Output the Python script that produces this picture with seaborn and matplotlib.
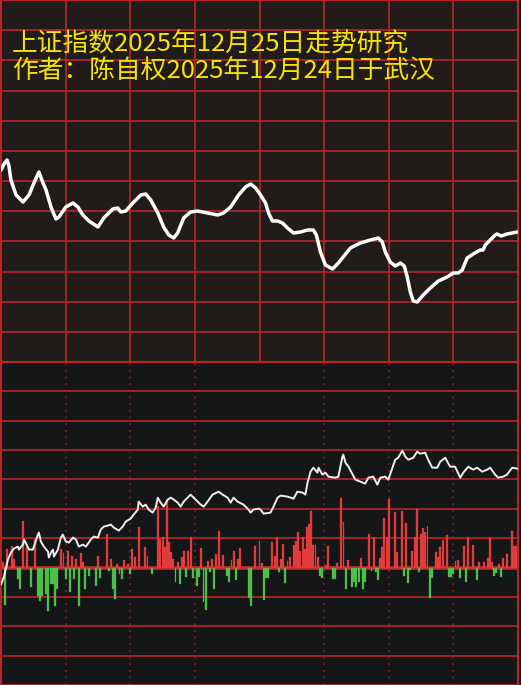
import numpy as np
import pandas as pd
import matplotlib
matplotlib.use("Agg")
import matplotlib.pyplot as plt
import seaborn as sns

# ------------------------------------------------------------------
# Data (x in trading minutes 0..240, y in panel units)
# ------------------------------------------------------------------
title_line1 = "上证指数2025年12月25日走势研究"
title_line2 = "作者：陈自权2025年12月24日于武汉"

# upper panel: smooth index trend
trend_minute = [0, 1.4, 2.8, 3.7, 4.6, 7.0, 10.2, 13.0, 15.3, 17.6, 19.5, 20.9, 23.2, 25.5,
                26.9, 30.1, 33.4, 35.7, 38.0, 40.8, 45.0, 47.7, 51.9, 54.2, 55.6, 57.9,
                61.2, 64.9, 67.2, 69.5, 72.8, 75.5, 77.9, 80.2, 82.0, 84.8, 88.0, 91.3,
                95.9, 100.6, 103.3, 106.6, 110.3, 113.5, 115.9, 118.2, 120.5, 122.8,
                124.2, 126.0, 128.4, 130.7, 133.0, 135.8, 139.0, 142.3, 145.0, 146.4,
                148.3, 150.6, 153.9, 156.6, 162.2, 166.8, 171.5, 175.2, 177.0, 178.4,
                180.7, 183.0, 185.4, 187.2, 188.6, 190.0, 191.4, 193.2, 196.0, 199.3,
                203.0, 207.1, 209.9, 212.2, 214.1, 216.4, 219.2, 222.4, 223.8, 224.8,
                227.1, 229.4, 230.3, 232.2, 234.9, 239.6]
trend_value = [192, 198, 202, 196, 182, 167, 160, 167, 179, 190, 179, 172, 155, 143,
               145, 155, 159, 155, 147, 141, 135, 144, 153, 154, 150, 151,
               159, 167, 168, 162, 149, 135, 127, 124, 129, 144, 150, 151,
               149, 147, 149, 155, 167, 175, 178, 174, 167, 159,
               149, 141, 141, 139, 134, 129, 130, 132, 132, 127,
               110, 97, 93, 99, 114, 119, 122, 124, 120, 110,
               100, 96, 99, 96, 85, 70, 61, 60, 67, 74,
               81, 85, 89, 89, 92, 104, 108, 112, 112, 117,
               122, 127, 128, 126, 128, 130]

# lower panel: jagged line
flow_minute = [0, 1.4, 3.2, 4.6, 6.0, 7.9, 8.3, 10.2, 10.7, 13.0, 14.8, 15.3, 17.1, 17.6,
               18.5, 19.9, 21.8, 22.2, 23.2, 24.1, 24.6, 26.4, 27.8, 28.7, 30.1, 31.5,
               33.4, 34.8, 36.1, 38.0, 39.4, 41.7, 43.1, 45.0, 46.3, 47.7, 49.6, 51.0,
               52.4, 54.7, 56.5, 57.9, 60.2, 61.6, 63.5, 63.9, 65.8, 67.2, 68.6, 70.4,
               71.8, 72.8, 74.1, 75.5, 77.4, 78.8, 80.2, 82.0, 83.4, 84.8, 88.0, 89.4,
               91.3, 92.7, 94.1, 95.9, 98.2, 101.0, 102.9, 105.2, 106.6, 108.0, 109.8,
               112.6, 114.9, 115.9, 117.2, 119.6, 120.5, 121.9, 125.1, 126.5, 128.4,
               129.8, 133.0, 135.8, 137.6, 140.0, 141.3, 142.3, 143.7, 145.0, 146.9,
               147.4, 149.2, 150.6, 152.0, 155.2, 156.6, 158.5, 158.9, 159.9, 161.3,
               164.5, 166.8, 169.1, 170.5, 172.8, 174.7, 176.1, 178.4, 179.8, 181.7,
               183.0, 184.4, 186.3, 187.7, 189.1, 191.4, 193.2, 194.6, 196.9, 198.3,
               200.2, 202.5, 203.9, 206.2, 208.5, 210.8, 213.2, 214.6, 216.9, 219.2,
               221.0, 223.4, 225.7, 227.1, 229.4, 230.8, 233.1, 234.9, 237.3, 239.6]
flow_value = [-17, -9, 8, 15, 19, 21, 18, 23, 28, 18, 18, 21, 33, 35,
              26, 21, 16, 10, 15, 18, 11, 18, 30, 33, 26, 25,
              30, 28, 21, 23, 21, 28, 31, 30, 38, 41, 42, 43,
              40, 37, 41, 46, 49, 53, 58, 66, 61, 63, 58, 55,
              60, 70, 65, 61, 68, 70, 68, 65, 61, 66, 73, 70,
              66, 63, 61, 66, 73, 76, 73, 70, 65, 70, 66,
              63, 58, 55, 58, 59, 58, 54, 55, 61, 70,
              72, 71, 69, 76, 75, 73, 85, 96, 100, 95,
              100, 93, 95, 91, 90, 91, 111, 113, 105, 101,
              88, 86, 84, 90, 91, 83, 90, 91, 88, 100,
              108, 110, 117, 111, 108, 110, 116, 114, 115, 108,
              100, 100, 106, 110, 101, 101, 90, 95, 101, 98,
              100, 96, 98, 100, 93, 90, 91, 93, 100, 99]

# lower panel: per-minute bars (positive = red, negative = green)
up_minute = [1, 3, 5, 6, 10, 12, 16, 28, 29, 31, 33, 35, 37, 38, 45, 49, 51, 54, 57, 59,
             61, 62, 64, 67, 68, 73, 74, 75, 76, 77, 78, 79, 80, 82, 84, 85, 87, 88,
             93, 96, 98, 100, 101, 103, 107, 108, 110, 111, 118, 120, 121, 126, 127,
             128, 130, 131, 133, 134, 136, 137, 138, 139, 140, 141, 142, 143, 144, 145,
             146, 147, 151, 152, 156, 158, 159, 161, 167, 171, 173, 176, 177, 178, 179,
             180, 183, 184, 186, 188, 191, 192, 193, 195, 196, 197, 198, 202, 203, 204,
             205, 207, 211, 212, 215, 217, 219, 222, 224, 226, 227, 228, 231, 233, 235,
             237, 238, 239]
up_value = [6, 19, 22, 9, 47, 21, 29, 19, 15, 17, 12, 9, 15, 6, 12, 34, 9, 4, 8, 4,
            19, 11, 41, 21, 12, 62, 29, 31, 21, 67, 26, 16, 9, 6, 11, 17, 17, 31,
            20, 7, 9, 14, 37, 13, 8, 17, 9, 20, 22, 27, 5, 26, 12,
            31, 9, 24, 7, 11, 23, 27, 36, 17, 31, 19, 41, 44, 57, 23,
            23, 11, 3, 22, 5, 70, 46, 8, 10, 34, 31, 10, 21, 50, 31,
            69, 56, 16, 57, 45, 17, 31, 59, 34, 40, 36, 42, 16, 11, 21,
            28, 33, 7, 8, 22, 31, 23, 6, 6, 10, 31, 6, 4, 10, 14,
            37, 22, 22]
down_minute = [2, 8, 9, 14, 17, 18, 19, 21, 22, 23, 24, 25, 26, 30, 32, 34, 36, 39, 41,
               44, 46, 50, 52, 53, 55, 56, 60, 70, 81, 83, 86, 89, 91, 92, 94, 95, 97,
               99, 105, 106, 109, 115, 116, 122, 123, 124, 129, 132, 148, 149, 154, 155,
               160, 163, 164, 165, 166, 168, 169, 172, 174, 175, 187, 189, 190, 194, 199,
               200, 208, 209, 210, 213, 216, 221, 229, 230, 232]
down_value = [-38, -11, -21, -19, -28, -33, -28, -26, -44, -16, -16, -39, -21, -11, -24,
              -11, -39, -21, -8, -18, -10, -3, -21, -31, -6, -11, -6, -6, -14, -16, -9,
              -10, -18, -9, -34, -43, -4, -21, -8, -14, -12, -30, -39, -32, -10, -10,
              -4, -15, -8, -10, -11, -11, -21, -19, -14, -19, -14, -21, -14, -3, -4,
              -12, -8, -15, -2, -4, -30, -10, -9, -9, -6, -10, -14, -12, -8, -5, -9]

# ------------------------------------------------------------------
# Style
# ------------------------------------------------------------------
sns.set_style("dark")
plt.rcParams["font.family"] = ["Noto Sans CJK SC", "DejaVu Sans"]

top_bg = "#211b19"
low_bg = "#151618"
grid_red = "#b9262a"
dark_red = "#8a2124"
bar_red = "#e23b3b"
bar_green = "#4dbf48"
text_yellow = "#f5e400"

fig = plt.figure(figsize=(5.21, 6.85), dpi=100, facecolor="#141414")
ax_top = fig.add_axes([1 / 521, 323 / 685, 517 / 521, 362 / 685])
ax_low = fig.add_axes([1 / 521, 0, 517 / 521, 323 / 685])

# ------------------------------------------------------------------
# Upper panel
# ------------------------------------------------------------------
ax_top.set_facecolor(top_bg)
sns.lineplot(x=trend_minute, y=trend_value, ax=ax_top, color="white", lw=2.5,
             errorbar=None, zorder=3)
ax_top.set_xlim(0, 240)
ax_top.set_ylim(0, 362)
ax_top.set_xticks(np.linspace(0, 240, 9))
ax_top.set_yticks(np.linspace(0, 362, 13))
ax_top.grid(True, color=grid_red, lw=1.2)

# ------------------------------------------------------------------
# Lower panel
# ------------------------------------------------------------------
ax_low.set_facecolor(low_bg)
bars = pd.DataFrame({
    "minute": up_minute + down_minute,
    "value": up_value + down_value,
    "side": ["up"] * len(up_minute) + ["down"] * len(down_minute),
})
sns.barplot(data=bars, x="minute", y="value", hue="side",
            palette={"up": bar_red, "down": bar_green}, native_scale=True,
            dodge=False, width=0.9, errorbar=None, saturation=1,
            linewidth=0.2, legend=False, ax=ax_low, zorder=2)
for patch in ax_low.patches:
    patch.set_edgecolor(patch.get_facecolor())
ax_low.axhline(0, color="#c42d2d", lw=2.6, zorder=1.5)
sns.lineplot(x=flow_minute, y=flow_value, ax=ax_low, color="#eeeeee", lw=1.4,
             errorbar=None, zorder=3)
ax_low.set_xlim(0, 240)
ax_low.set_ylim(-117.6, 205.8)
ax_low.set_yticks(np.arange(-4, 8) * 29.4)
ax_low.set_xticks([30, 60, 90, 150, 180, 210])
ax_low.grid(axis="y", color="#a02426", lw=1.4)
ax_low.grid(axis="x", color=dark_red, lw=1.2, linestyle=(0, (1, 3)))
ax_low.set_axisbelow(True)

for ax in (ax_top, ax_low):
    ax.tick_params(length=0, labelbottom=False, labelleft=False)
    ax.set_xlabel("")
    ax.set_ylabel("")
    for sp in ax.spines.values():
        sp.set_visible(True)
        sp.set_color(grid_red)
        sp.set_linewidth(1.5)

# title text
fig.text(12 / 521, 1 - 44 / 685, title_line1, color=text_yellow, fontsize=18.5,
         va="center", ha="left")
fig.text(12 / 521, 1 - 71 / 685, title_line2, color=text_yellow, fontsize=18.5,
         va="center", ha="left")

fig.savefig("out.png", dpi=100, facecolor=fig.get_facecolor())
